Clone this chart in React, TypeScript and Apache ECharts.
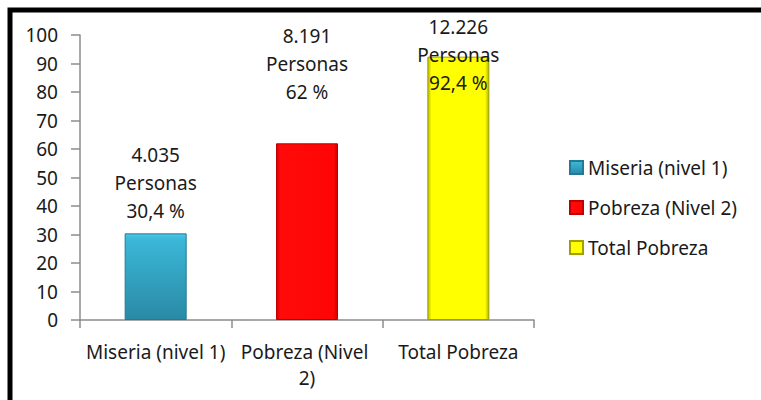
import React, { useEffect, useRef } from "react";
import * as echarts from "echarts";

const categories = ["Miseria (nivel 1)", "Pobreza (Nivel 2)", "Total Pobreza"];
const seriesNames = ["Miseria (nivel 1)", "Pobreza (Nivel 2)", "Total Pobreza"];
const percentValues = [30.4, 62, 92.4];
const personasLabels = ["4.035", "8.191", "12.226"];
const percentLabels = ["30,4 %", "62 %", "92,4 %"];
const yTicks = { min: 0, max: 100, interval: 10 };

const FONT = "'Noto Sans', sans-serif";
const TEXT = "#1a1a1a";
const labelOffsets = [-8, -37, 40];

const colors: any[] = [
  {
    type: "linear", x: 0, y: 0, x2: 0, y2: 1,
    colorStops: [
      { offset: 0, color: "#4cc9e8" },
      { offset: 0.06, color: "#3bb7d8" },
      { offset: 1, color: "#2a8aa6" },
    ],
  },
  {
    type: "linear", x: 0, y: 0, x2: 1, y2: 0,
    colorStops: [
      { offset: 0, color: "#d90000" },
      { offset: 0.06, color: "#ff0a0a" },
      { offset: 0.94, color: "#ff0505" },
      { offset: 1, color: "#cc0000" },
    ],
  },
  {
    type: "linear", x: 0, y: 0, x2: 1, y2: 0,
    colorStops: [
      { offset: 0, color: "#b8b800" },
      { offset: 0.06, color: "#ffff00" },
      { offset: 0.94, color: "#ffff00" },
      { offset: 1, color: "#b0b000" },
    ],
  },
];
const borders = ["#237a94", "#c00000", "#a0a000"];

export default function App() {
  const ref = useRef<HTMLDivElement>(null);
  useEffect(() => {
    if (!ref.current) return;
    const chart = echarts.init(ref.current, null, { renderer: "svg" });
    const series = seriesNames.map((name, si) => ({
      name,
      type: "bar",
      stack: "all",
      barWidth: 62,
      itemStyle: { color: colors[si], borderColor: borders[si], borderWidth: 1 },
      data: categories.map((_, ci) =>
        ci === si
          ? {
              value: percentValues[ci],
              label: {
                show: true,
                position: "top",
                distance: 0,
                offset: [0, labelOffsets[ci]],
                formatter: () =>
                  `${personasLabels[ci]}\nPersonas\n${percentLabels[ci]}`,
                fontFamily: FONT,
                fontSize: 19,
                lineHeight: 28,
                color: TEXT,
                align: "center",
              },
            }
          : "-"
      ),
    }));
    chart.setOption({
      animation: false,
      backgroundColor: "#ffffff",
      grid: { left: 80, right: 227, top: 35, bottom: 80, containLabel: false },
      legend: {
        orient: "vertical",
        left: 564,
        top: 153,
        itemWidth: 13,
        itemHeight: 13,
        itemGap: 21,
        icon: "rect",
        textStyle: { fontFamily: FONT, fontSize: 19, color: TEXT },
        data: seriesNames,
      },
      xAxis: {
        type: "category",
        data: categories,
        axisLine: { show: true, lineStyle: { color: "#8c8c8c", width: 1.5 } },
        axisTick: { show: true, length: 8, alignWithLabel: false, lineStyle: { color: "#8c8c8c", width: 1.5 } },
        axisLabel: {
          interval: 0,
          margin: 19,
          width: 143,
          overflow: "break",
          fontFamily: FONT,
          fontSize: 19,
          lineHeight: 26,
          color: TEXT,
        },
      },
      yAxis: {
        type: "value",
        min: yTicks.min,
        max: yTicks.max,
        interval: yTicks.interval,
        splitLine: { show: false },
        axisLine: { show: true, lineStyle: { color: "#8c8c8c", width: 1.5 } },
        axisTick: { show: true, length: 9, lineStyle: { color: "#8c8c8c", width: 1.5 } },
        axisLabel: { margin: 22, fontFamily: FONT, fontSize: 19, color: TEXT },
      },
      graphic: [
        {
          type: "rect",
          shape: { x: 10, y: 10, width: 900, height: 600 },
          style: { fill: "none", stroke: "#000000", lineWidth: 5 },
          silent: true,
          z: 100,
        },
      ],
      series,
    });
    return () => chart.dispose();
  }, []);
  return (
    <div
      ref={ref}
      style={{ position: "fixed", left: 0, top: 0, width: 761, height: 400 }}
    />
  );
}
